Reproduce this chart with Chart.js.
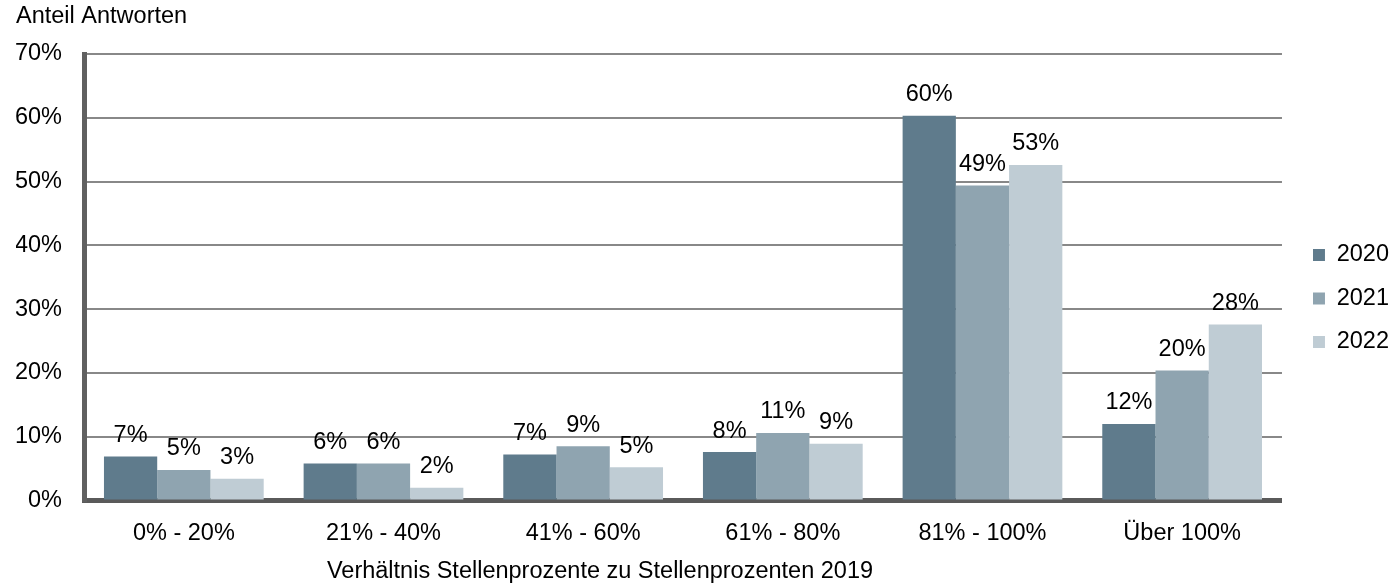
<!DOCTYPE html>
<html><head><meta charset="utf-8">
<script src="https://cdn.jsdelivr.net/npm/chart.js@4.4.0/dist/chart.umd.min.js"></script>
<style>html,body{margin:0;padding:0;background:#fff;overflow:hidden}</style>
</head><body>
<canvas id="c" width="1391" height="585" style="width:1391px;height:585px;display:block"></canvas>
<script>
const categories = ['0% - 20%', '21% - 40%', '41% - 60%', '61% - 80%', '81% - 100%', 'Über 100%'];
const seriesNames = ['2020', '2021', '2022'];
const values2020 = [6.9, 5.8, 7.2, 7.6, 60.3, 12.0];
const values2021 = [4.8, 5.8, 8.5, 10.6, 49.4, 20.4];
const values2022 = [3.4, 2.0, 5.2, 8.9, 52.6, 27.6];
const yTickValues = [0, 10, 20, 30, 40, 50, 60, 70];
const yAxisTitle = 'Anteil Antworten';
const xAxisTitle = 'Verhältnis Stellenprozente zu Stellenprozenten 2019';
const seriesColors = ['#5f7b8c', '#8fa4b0', '#bfccd4'];

const FONT = '"Liberation Sans", Arial, sans-serif';
const FS = 23.5;
Chart.defaults.font.family = FONT;
Chart.defaults.font.size = FS;
Chart.defaults.color = '#000';

const valueLabels = {
  id: 'valueLabels',
  afterDatasetsDraw(chart) {
    const ctx = chart.ctx;
    ctx.save();
    ctx.font = FS + 'px ' + FONT;
    ctx.fillStyle = '#000';
    ctx.textAlign = 'center';
    ctx.textBaseline = 'alphabetic';
    chart.data.datasets.forEach((ds, i) => {
      const meta = chart.getDatasetMeta(i);
      meta.data.forEach((el, j) => {
        ctx.fillText(Math.round(ds.data[j]) + '%', el.x, el.y - 14.5);
      });
    });
    ctx.restore();
  }
};

const xTitle = {
  id: 'xTitle',
  afterDraw(chart) {
    const ctx = chart.ctx;
    ctx.save();
    ctx.font = FS + 'px ' + FONT;
    ctx.fillStyle = '#000';
    ctx.textAlign = 'center';
    ctx.textBaseline = 'middle';
    ctx.fillText(xAxisTitle, 600, 572);
    ctx.restore();
  }
};

new Chart(document.getElementById('c'), {
  type: 'bar',
  data: {
    labels: categories,
    datasets: [
      { label: seriesNames[0], data: values2020, backgroundColor: seriesColors[0] },
      { label: seriesNames[1], data: values2021, backgroundColor: seriesColors[1] },
      { label: seriesNames[2], data: values2022, backgroundColor: seriesColors[2] }
    ]
  },
  options: {
    responsive: false,
    animation: false,
    devicePixelRatio: 1,
    datasets: { bar: { categoryPercentage: 0.8, barPercentage: 1.0 } },
    layout: { padding: { left: 16, right: -8, top: 0, bottom: -12 } },
    plugins: {
      tooltip: { enabled: false },
      title: {
        display: true, text: yAxisTitle, align: 'start',
        font: { size: FS, weight: 'normal' }, color: '#000',
        padding: { top: 2.6, bottom: 23.2 }
      },
      legend: {
        position: 'right',
        labels: { boxWidth: 12, boxHeight: 12, padding: 20, color: '#000', font: { size: FS } }
      }
    },
    scales: {
      x: {
        z: 1,
        grid: { display: false },
        border: { display: true, color: '#5a5a5a', width: 5 },
        ticks: { padding: 11, color: '#000', maxRotation: 0, font: { size: FS } },
        afterFit: s => { s.height = 96.5; }
      },
      y: {
        min: 0, max: 70,
        grid: { color: '#888888', lineWidth: 2, drawTicks: false },
        border: { display: true, color: '#606060', width: 5 },
        ticks: { padding: 22, color: '#000', font: { size: FS }, callback: v => v + '%' },
        afterBuildTicks: s => { s.ticks = yTickValues.map(v => ({ value: v })); },
        afterFit: s => { s.width = 68; }
      },
      gap: {
        type: 'linear', position: 'right', display: true,
        grid: { display: false }, border: { display: false }, ticks: { display: false },
        afterFit: s => { s.width = 11; }
      }
    }
  },
  plugins: [valueLabels, xTitle]
});
</script>
</body></html>
